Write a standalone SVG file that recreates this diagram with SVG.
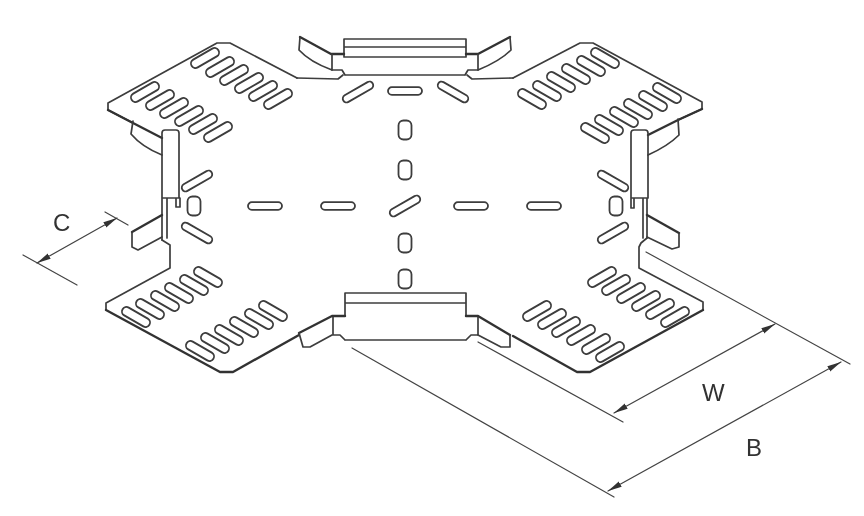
<svg xmlns="http://www.w3.org/2000/svg" width="864" height="516" viewBox="0 0 864 516">
<style>
.o{fill:none;stroke:#3c3c3c;stroke-width:1.7;stroke-linejoin:round;stroke-linecap:round}
.h{fill:none;stroke:#333;stroke-width:2.4;stroke-linejoin:round;stroke-linecap:round}
.d{fill:none;stroke:#444;stroke-width:1.2;stroke-linecap:round}
.s{fill:#fff;stroke:#3c3c3c;stroke-width:1.8}
text{font-family:"Liberation Sans",Arial,sans-serif;font-size:24px;fill:#333}
</style>
<defs>
<filter id="b" x="-5%" y="-5%" width="110%" height="110%"><feGaussianBlur stdDeviation="0.35"/></filter>
<rect id="l" class="s" x="-15.5" y="-4.5" width="31" height="9" rx="4.5"/>
<rect id="m" class="s" x="-17" y="-3.8" width="34" height="7.6" rx="3.8"/>
<rect id="v" class="s" x="-6.5" y="-9.5" width="13" height="19" rx="5"/>
<marker id="a" viewBox="0 0 14 7" refX="14" refY="3.5" markerWidth="14" markerHeight="7" markerUnits="userSpaceOnUse" orient="auto-start-reverse"><path d="M0 .5L14 3.5L0 6.5Z" fill="#333"/></marker>
</defs>
<rect width="864" height="516" fill="#fff"/>
<g filter="url(#b)">
<g id="plates">
<path class="o" d="M297 78L230 43H217L108 103V110L133 123"/>
<path class="h" d="M108 110L133 123L162 138"/>
<path class="o" d="M297 78L338 79L343 75"/>
<path class="o" d="M513 78L472 79L467 75"/>
<path class="o" d="M513 78L580 43H593L702 102V109L678 120"/>
<path class="h" d="M702 109L678 120L648 135"/>
<path class="o" d="M162 240L170 245V268L106 303V310"/>
<path class="h" d="M106 310L220 372H233L299 335"/>
<path class="o" d="M647 238L641 243L639 247V268L703 302V310"/>
<path class="h" d="M703 310L590 372H577L513 336"/>
</g>
<g id="top-flange">
<path class="o" d="M344 39H466V57H344ZM344 47H466M345 75H465M332 70H342L345 75M478 70H468L465 75"/>
<path class="h" d="M300 37L331 54H344M510 37L478 54H466"/>
<path class="o" d="M300 37L299 50Q310 62 332 70V54M510 37L511 50Q500 61 478 70V54"/>
</g>
<g id="bottom-flange">
<path class="o" d="M345 293H466V316M345 303H466M345 293V316H333V335M345 340H466M333 335H340L345 340M466 340L471 335H478V316"/>
<path class="h" d="M299 333L332 316H345M466 316H478L510 335"/>
<path class="o" d="M299 333L303 347H310L332 335M510 335V347H501L478 335"/>
</g>
<g id="left-flange">
<path class="o" d="M162 133Q162 130 165 130H176Q179 130 179 133V198H162ZM176 198V207H180V198M162 198V240M167 198V238"/>
<path class="h" d="M162 215L132 232"/>
<path class="o" d="M132 232V247L138 250L162 237M133 121L131 134Q142 147 162 155"/>
</g>
<g id="right-flange">
<path class="o" d="M631 133Q631 130 634 130H645Q648 130 648 133V198H631ZM631 198V208H634V198M643 198V238M647 198V238"/>
<path class="h" d="M647 215L679 233"/>
<path class="o" d="M679 233V247L672 249L647 237M678 119L679 135Q668 146 648 155"/>
</g>
<g id="slots">
<use href="#l" transform="translate(205 58) rotate(-30)"/><use href="#l" transform="translate(220 67) rotate(-30)"/><use href="#l" transform="translate(234 75) rotate(-30)"/><use href="#l" transform="translate(249 83) rotate(-30)"/><use href="#l" transform="translate(263 91) rotate(-30)"/><use href="#l" transform="translate(278 99) rotate(-30)"/>
<use href="#l" transform="translate(145 92) rotate(-30)"/><use href="#l" transform="translate(160 100) rotate(-30)"/><use href="#l" transform="translate(174 108) rotate(-30)"/><use href="#l" transform="translate(189 116) rotate(-30)"/><use href="#l" transform="translate(203 124) rotate(-30)"/><use href="#l" transform="translate(218 132) rotate(-30)"/>
<use href="#l" transform="translate(605 58) rotate(30)"/><use href="#l" transform="translate(591 66) rotate(30)"/><use href="#l" transform="translate(576 74) rotate(30)"/><use href="#l" transform="translate(561 82) rotate(30)"/><use href="#l" transform="translate(547 91) rotate(30)"/><use href="#l" transform="translate(532 99) rotate(30)"/>
<use href="#l" transform="translate(667 93) rotate(30)"/><use href="#l" transform="translate(653 101) rotate(30)"/><use href="#l" transform="translate(638 109) rotate(30)"/><use href="#l" transform="translate(624 117) rotate(30)"/><use href="#l" transform="translate(609 125) rotate(30)"/><use href="#l" transform="translate(595 133) rotate(30)"/>
<use href="#l" transform="translate(208 277) rotate(30)"/><use href="#l" transform="translate(194 285) rotate(30)"/><use href="#l" transform="translate(179 293) rotate(30)"/><use href="#l" transform="translate(165 301) rotate(30)"/><use href="#l" transform="translate(150 309) rotate(30)"/><use href="#l" transform="translate(136 317) rotate(30)"/>
<use href="#l" transform="translate(273 311) rotate(30)"/><use href="#l" transform="translate(259 319) rotate(30)"/><use href="#l" transform="translate(244 327) rotate(30)"/><use href="#l" transform="translate(229 335) rotate(30)"/><use href="#l" transform="translate(215 343) rotate(30)"/><use href="#l" transform="translate(200 351) rotate(30)"/>
<use href="#l" transform="translate(602 277) rotate(-30)"/><use href="#l" transform="translate(616 285) rotate(-30)"/><use href="#l" transform="translate(631 293) rotate(-30)"/><use href="#l" transform="translate(646 301) rotate(-30)"/><use href="#l" transform="translate(660 309) rotate(-30)"/><use href="#l" transform="translate(675 317) rotate(-30)"/>
<use href="#l" transform="translate(537 311) rotate(-30)"/><use href="#l" transform="translate(552 319) rotate(-30)"/><use href="#l" transform="translate(566 327) rotate(-30)"/><use href="#l" transform="translate(581 335) rotate(-30)"/><use href="#l" transform="translate(596 344) rotate(-30)"/><use href="#l" transform="translate(610 352) rotate(-30)"/>
<use href="#m" transform="translate(265 206)"/><use href="#m" transform="translate(338 206)"/><use href="#m" transform="translate(471 206)"/><use href="#m" transform="translate(544 206)"/><use href="#m" transform="translate(405 91)"/>
<use href="#m" transform="translate(405 206) rotate(-30)"/><use href="#m" transform="translate(358 92) rotate(-30)"/><use href="#m" transform="translate(453 92) rotate(30)"/>
<use href="#m" transform="translate(197 181) rotate(-30)"/><use href="#m" transform="translate(197 233) rotate(30)"/><use href="#m" transform="translate(613 181) rotate(30)"/><use href="#m" transform="translate(613 233) rotate(-30)"/>
<use href="#v" transform="translate(405 130)"/><use href="#v" transform="translate(405 170)"/><use href="#v" transform="translate(405 243)"/><use href="#v" transform="translate(405 279)"/><use href="#v" transform="translate(194 206)"/><use href="#v" transform="translate(616 206)"/>
</g>
<g id="connectors">
<path class="d" d="M105 212L128 225M23 255L77 285M646 252L850 364M478 342L623 422M352 348L614 497"/>
<path class="d" marker-start="url(#a)" marker-end="url(#a)" d="M37 263L117 218"/>
<path class="d" marker-start="url(#a)" marker-end="url(#a)" d="M614 413L775 324"/>
<path class="d" marker-start="url(#a)" marker-end="url(#a)" d="M608 491L841 362"/>
</g>
<text x="53" y="231">C</text>
<text x="702" y="401">W</text>
<text x="746" y="456">B</text>
</g>
</svg>
